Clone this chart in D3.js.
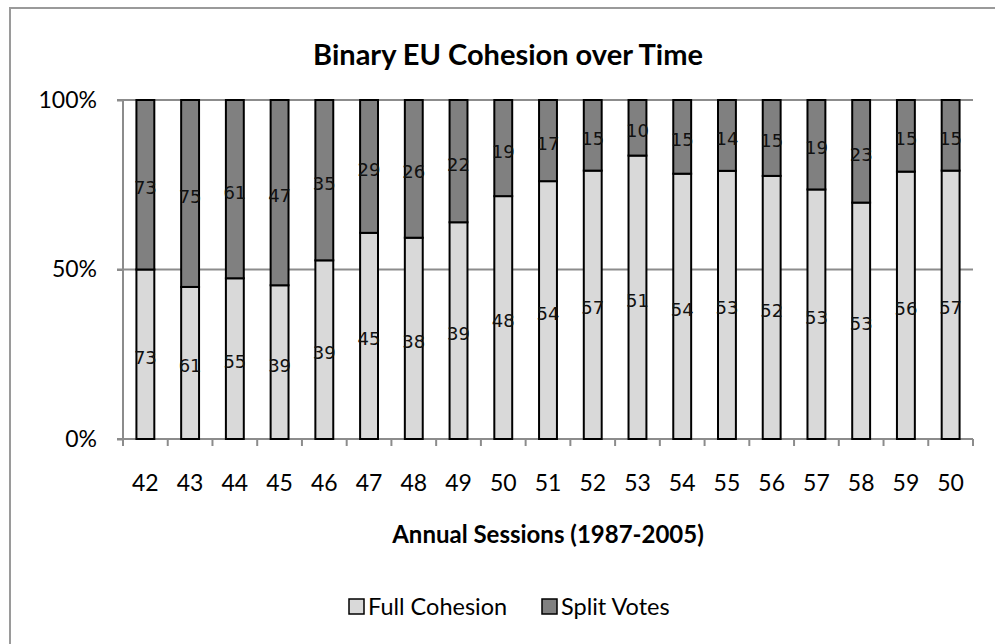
<!DOCTYPE html>
<html>
<head>
<meta charset="utf-8">
<script src="https://cdn.jsdelivr.net/npm/d3@7"></script>
<style>
  html, body { margin: 0; padding: 0; background: #fff; }
  svg { display: block; }
</style>
</head>
<body>
<svg id="chart" width="995" height="644"></svg>
<script>
// Annual sessions and vote counts
const sessions = ["42","43","44","45","46","47","48","49","50","51","52","53","54","55","56","57","58","59","50"];
const fullCohesion = [73,61,55,39,39,45,38,39,48,54,57,51,54,53,52,53,53,56,57];
const splitVotes   = [73,75,61,47,35,29,26,22,19,17,15,10,15,14,15,19,23,15,15];
const seriesNames = ["Full Cohesion", "Split Votes"];
const seriesColors = ["#d9d9d9", "#808080"];
const yTicks = [0, 0.5, 1];

const svg = d3.select("#chart");
const W = 995, H = 644;
const margin = { left: 123, right: 22, top: 100, bottom: 205 };
const plotW = W - margin.left - margin.right;
const plotH = H - margin.top - margin.bottom;

const labelFont = "Lato, 'Open Sans', sans-serif";

// outer chart frame
svg.append("rect")
  .attr("x", 10).attr("y", 8)
  .attr("width", 1000).attr("height", 700)
  .attr("fill", "#fff")
  .attr("stroke", "#9a9a9a").attr("stroke-width", 2);

// title
svg.append("text")
  .attr("x", 508).attr("y", 65)
  .attr("text-anchor", "middle")
  .attr("font-family", labelFont)
  .attr("font-weight", "bold")
  .attr("font-size", 29)
  .attr("fill", "#000")
  .text("Binary EU Cohesion over Time");

const g = svg.append("g").attr("transform", `translate(${margin.left},${margin.top})`);

const x = d3.scaleBand().domain(d3.range(sessions.length)).range([0, plotW]).paddingInner(0.6).paddingOuter(0.3);
const xEdges = d3.scaleBand().domain(d3.range(sessions.length)).range([0, plotW]).padding(0);
const y = d3.scaleLinear().domain([0, 1]).range([plotH, 0]);

// gridlines
g.append("g")
  .selectAll("line")
  .data(yTicks.filter(t => t > 0))
  .join("line")
  .attr("x1", -6).attr("x2", plotW)
  .attr("y1", d => y(d)).attr("y2", d => y(d))
  .attr("stroke", "#8c8c8c").attr("stroke-width", 2);

// y axis
const yAxis = d3.axisLeft(y).tickValues(yTicks).tickFormat(d3.format(".0%")).tickSize(6).tickPadding(20);
const yg = g.append("g").call(yAxis);
yg.select(".domain").attr("stroke", "#8c8c8c").attr("stroke-width", 2).attr("d", `M0,0V${plotH + 7}`);
yg.selectAll(".tick line").attr("stroke", "#8c8c8c").attr("stroke-width", 2);
yg.selectAll(".tick text")
  .attr("font-family", labelFont).attr("font-size", 23).attr("fill", "#000");

// x axis: ticks at category boundaries
const xg = g.append("g").attr("transform", `translate(0,${plotH})`);
xg.append("line").attr("x1", -6).attr("x2", plotW).attr("y1", 0).attr("y2", 0)
  .attr("stroke", "#8c8c8c").attr("stroke-width", 2);
xg.selectAll("line.tick")
  .data(d3.range(sessions.length + 1))
  .join("line")
  .attr("class", "tick")
  .attr("x1", d => d * xEdges.step()).attr("x2", d => d * xEdges.step())
  .attr("y1", 0).attr("y2", 7)
  .attr("stroke", "#8c8c8c").attr("stroke-width", 2);
xg.selectAll("text")
  .data(sessions)
  .join("text")
  .attr("x", (d, i) => xEdges(i) + xEdges.bandwidth() / 2)
  .attr("y", 52)
  .attr("text-anchor", "middle")
  .attr("font-family", labelFont).attr("font-size", 23).attr("fill", "#000")
  .text(d => d);

// stacked percentages
const rows = sessions.map((s, i) => {
  const tot = fullCohesion[i] + splitVotes[i];
  return { i, full: fullCohesion[i], split: splitVotes[i], fullP: fullCohesion[i] / tot, splitP: splitVotes[i] / tot };
});
const stack = d3.stack().keys(["fullP", "splitP"]);
const stacked = stack(rows);
const rawKeys = ["full", "split"];

const layers = g.selectAll("g.layer")
  .data(stacked)
  .join("g")
  .attr("class", "layer")
  .attr("fill", (d, k) => seriesColors[k]);

layers.selectAll("rect")
  .data(d => d)
  .join("rect")
  .attr("x", d => x(d.data.i))
  .attr("width", x.bandwidth())
  .attr("y", d => y(d[1]))
  .attr("height", d => y(d[0]) - y(d[1]))
  .attr("stroke", "#000").attr("stroke-width", 2);

// value labels centered in each segment
stacked.forEach((layer, k) => {
  g.append("g").selectAll("text")
    .data(layer)
    .join("text")
    .attr("x", d => x(d.data.i) + x.bandwidth() / 2)
    .attr("y", d => (y(d[0]) + y(d[1])) / 2 + 3)
    .attr("text-anchor", "middle")
    .attr("dominant-baseline", "central")
    .attr("font-family", "'DejaVu Sans', sans-serif")
    .attr("font-size", 18)
    .attr("fill", "#111")
    .text(d => d.data[rawKeys[k]]);
});

// axis title
svg.append("text")
  .attr("x", margin.left + plotW / 2).attr("y", 543)
  .attr("text-anchor", "middle")
  .attr("font-family", labelFont).attr("font-weight", "bold").attr("font-size", 24)
  .attr("fill", "#000")
  .text("Annual Sessions (1987-2005)");

// legend
const legendItems = [
  { name: seriesNames[0], color: seriesColors[0], x: 349 },
  { name: seriesNames[1], color: seriesColors[1], x: 542 }
];
const lg = svg.append("g");
legendItems.forEach(it => {
  lg.append("rect")
    .attr("x", it.x).attr("y", 599).attr("width", 15).attr("height", 15)
    .attr("fill", it.color).attr("stroke", "#000").attr("stroke-width", 1.5);
  lg.append("text")
    .attr("x", it.x + 19).attr("y", 615)
    .attr("font-family", labelFont).attr("font-size", 23.5).attr("fill", "#000")
    .text(it.name);
});
</script>
</body>
</html>
